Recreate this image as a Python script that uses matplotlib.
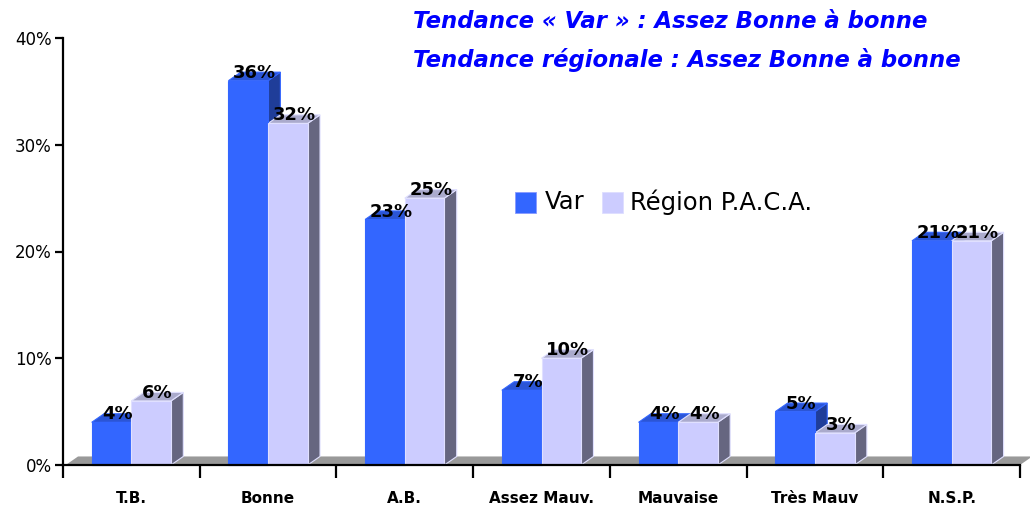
import matplotlib
matplotlib.use("Agg")
import matplotlib.pyplot as plt
from matplotlib.patches import Polygon, Rectangle

categories = ["T.B.", "Bonne", "A.B.", "Assez Mauv.", "Mauvaise", "Très Mauv", "N.S.P."]
var_vals = [4, 36, 23, 7, 4, 5, 21]
paca_vals = [6, 32, 25, 10, 4, 3, 21]

plt.rcParams['font.family'] = ['DejaVu Sans']

fig = plt.figure(figsize=(10.30, 5.07), dpi=100)
ax = fig.add_axes([63 / 1030, 42 / 507, 957 / 1030, 427 / 507])
ax.set_xlim(0, 7)
ax.set_ylim(0, 40)

dx, dy = 0.09, 0.8   # fake 3D depth
w = 0.29

# floor
ax.add_patch(Polygon([(0.02, 0), (7, 0), (7 + dx, dy), (0.02 + dx, dy)],
                     closed=True, fc="#999999", ec="none", clip_on=False, zorder=1))

styles = [
    (var_vals, 0.21, "#3366FF", "#2B55D6", "#1F3D99", "#3366FF"),
    (paca_vals, 0.50, "#CCCCFF", "#AAAACC", "#666680", "#E0E0FF"),
]
for vals, off, front, top, side, edge in styles:
    for i, v in enumerate(vals):
        x0 = i + off
        x1 = x0 + w
        ax.add_patch(Polygon([(x1, 0), (x1 + dx, dy), (x1 + dx, v + dy), (x1, v)],
                             closed=True, fc=side, ec=edge, lw=0.8, clip_on=False, zorder=2))
        ax.add_patch(Polygon([(x0, v), (x0 + dx, v + dy), (x1 + dx, v + dy), (x1, v)],
                             closed=True, fc=top, ec=edge, lw=0.8, clip_on=False, zorder=2))
        ax.add_patch(Rectangle((x0, 0), w, v, fc=front, ec=edge, lw=0.8,
                               clip_on=False, zorder=3))
        ax.text(x0 + w / 2 + dx * 0.5, v - 0.1, f"{v}%", ha="center", va="bottom",
                fontsize=13, fontweight="bold", zorder=5)

# axes styling
for s in ["top", "right"]:
    ax.spines[s].set_visible(False)
ax.spines["left"].set_linewidth(1.6)
ax.spines["bottom"].set_linewidth(1.6)
ax.spines["bottom"].set_zorder(4)

ax.set_yticks([0, 10, 20, 30, 40])
ax.set_yticklabels(["0%", "10%", "20%", "30%", "40%"], fontsize=12)
ax.tick_params(axis="y", length=6, width=1.6, pad=2)

ax.set_xticks(range(8))
ax.set_xticklabels([])
ax.tick_params(axis="x", length=9, width=1.6)
for i, c in enumerate(categories):
    ax.text(i + 0.5, -2.4, c, ha="center", va="top", fontsize=11, fontweight="bold")

# legend
ax.add_patch(Rectangle((3.307, 23.6), 0.154, 1.97, fc="#3366FF", ec="#8899FF", lw=0.6, zorder=5))
ax.text(3.526, 24.6, "Var", va="center", ha="left", fontsize=17.5)
ax.add_patch(Rectangle((3.943, 23.6), 0.154, 1.97, fc="#CCCCFF", ec="#DDDDFF", lw=0.6, zorder=5))
ax.text(4.148, 24.6, "Région P.A.C.A.", va="center", ha="left", fontsize=17.5)

# title
fig.text(413 / 1030, 1 - 22 / 507, "Tendance « Var » : Assez Bonne à bonne",
         color="#0000FF", fontsize=16.4, fontweight="bold", fontstyle="italic", va="center")
fig.text(413 / 1030, 1 - 60 / 507, "Tendance régionale : Assez Bonne à bonne",
         color="#0000FF", fontsize=16.4, fontweight="bold", fontstyle="italic", va="center")

fig.savefig("out.png", dpi=100)
